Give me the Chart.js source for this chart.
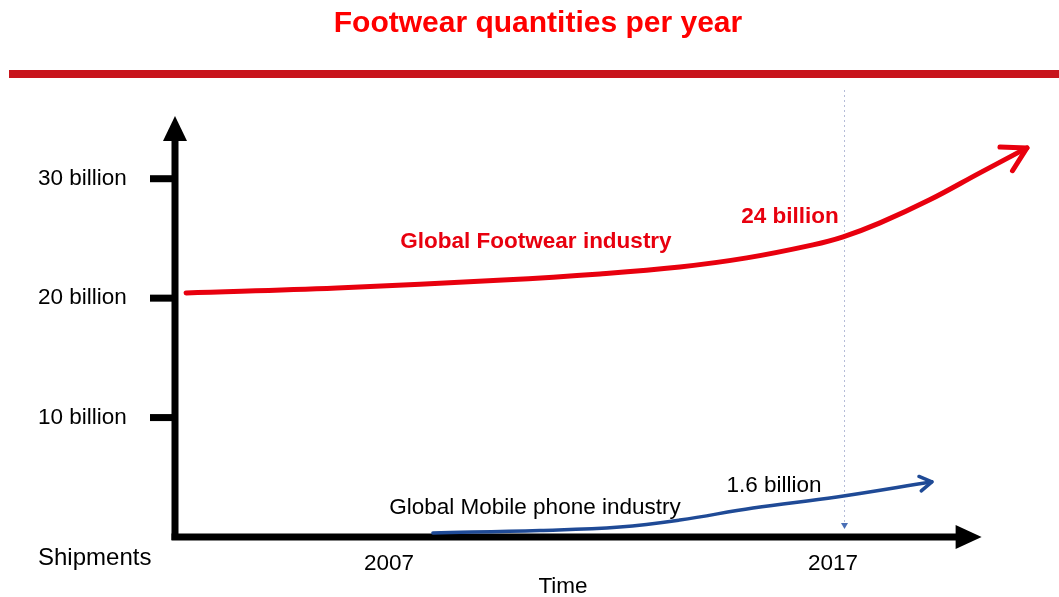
<!DOCTYPE html>
<html>
<head>
<meta charset="utf-8">
<script src="https://cdn.jsdelivr.net/npm/chart.js@4"></script>
<style>
  html, body { margin: 0; padding: 0; background: #fff; }
  #wrap { width: 1059px; height: 597px; }
</style>
</head>
<body>
<div id="wrap"><canvas id="footwearChart" width="1059" height="597"></canvas></div>
<script>
  // Schematic values (years, billions of pairs / units)
  const footwearYears = [2002.43, 2005.83, 2009.57, 2011.75, 2013.55, 2015.06, 2016.55, 2017.23, 2018.06, 2019.18, 2020.31, 2021.37];
  const footwearValues = [20.44, 20.85, 21.52, 22.03, 22.61, 23.37, 24.46, 25.13, 26.3, 28.23, 30.49, 32.58];

  const mobileYears = [2007.99, 2010.4, 2012.2, 2013.55, 2015.2, 2017.09, 2019.23];
  const mobileValues = [0.34, 0.55, 0.84, 1.42, 2.43, 3.35, 4.62];

  const yTicks = [10, 20, 30];
  const yTickLabels = ['10 billion', '20 billion', '30 billion'];
  const xTicks = [2007, 2017];
  const xTickLabels = ['2007', '2017'];
  const markerYear = 2017.25;

  const FONT = '"Liberation Sans", Arial, Helvetica, sans-serif';
  const RED = '#e8000e';
  const BLUE = '#1f4a96';

  function toPoints(xs, ys) {
    return xs.map((x, i) => ({ x: x, y: ys[i] }));
  }

  function chevron(ctx, tip, from, len, half, color, width) {
    const ang = Math.atan2(from.y - tip.y, from.x - tip.x);
    ctx.save();
    ctx.strokeStyle = color;
    ctx.lineWidth = width;
    ctx.lineCap = 'round';
    ctx.lineJoin = 'round';
    ctx.beginPath();
    ctx.moveTo(tip.x + len * Math.cos(ang - half), tip.y + len * Math.sin(ang - half));
    ctx.lineTo(tip.x, tip.y);
    ctx.lineTo(tip.x + len * Math.cos(ang + half), tip.y + len * Math.sin(ang + half));
    ctx.stroke();
    ctx.restore();
  }

  // Axes, ticks, titles and labels drawn on the library's scales
  const sketchPlugin = {
    id: 'sketch',
    beforeDatasetsDraw(chart) {
      const ctx = chart.ctx;
      const xs = chart.scales.x;
      const ys = chart.scales.y;
      const area = chart.chartArea;
      const x0 = area.left;
      const y0 = ys.getPixelForValue(0);

      ctx.save();
      // header
      ctx.fillStyle = '#ff0000';
      ctx.font = 'bold 30px ' + FONT;
      ctx.textAlign = 'center';
      ctx.textBaseline = 'middle';
      ctx.fillText('Footwear quantities per year', 538, 24);
      ctx.fillStyle = '#c8141c';
      ctx.fillRect(9, 70, 1050, 8);

      // 2017 marker line
      const mx = xs.getPixelForValue(markerYear);
      ctx.strokeStyle = 'rgba(150,160,200,0.7)';
      ctx.lineWidth = 1;
      ctx.setLineDash([2, 3]);
      ctx.beginPath();
      ctx.moveTo(mx + 0.5, 90);
      ctx.lineTo(mx + 0.5, y0 - 14);
      ctx.stroke();
      ctx.setLineDash([]);
      ctx.fillStyle = '#4a6fb5';
      ctx.beginPath();
      ctx.moveTo(mx - 3, y0 - 14);
      ctx.lineTo(mx + 4, y0 - 14);
      ctx.lineTo(mx + 0.5, y0 - 8);
      ctx.closePath();
      ctx.fill();

      // axes
      ctx.fillStyle = '#000';
      ctx.fillRect(x0 - 3.5, area.top + 20, 7, y0 - area.top - 17);
      ctx.beginPath();
      ctx.moveTo(x0, area.top - 3);
      ctx.lineTo(x0 - 12, area.top + 22);
      ctx.lineTo(x0 + 12, area.top + 22);
      ctx.closePath();
      ctx.fill();

      const xEnd = xs.getPixelForValue(2020.35);
      ctx.fillRect(x0 - 3.5, y0 - 3.5, xEnd - 24 - x0 + 3.5, 7);
      ctx.beginPath();
      ctx.moveTo(xEnd, y0);
      ctx.lineTo(xEnd - 26, y0 - 12);
      ctx.lineTo(xEnd - 26, y0 + 12);
      ctx.closePath();
      ctx.fill();

      // y ticks
      ctx.font = '22.5px ' + FONT;
      ctx.textAlign = 'left';
      yTicks.forEach((v, i) => {
        const py = ys.getPixelForValue(v);
        ctx.fillRect(x0 - 25, py - 3.5, 25, 7);
        ctx.fillText(yTickLabels[i], 38, py);
      });
      ctx.font = '24px ' + FONT;
      ctx.fillText('Shipments', 38, y0 + 21);

      // x ticks
      ctx.font = '22.5px ' + FONT;
      ctx.textAlign = 'center';
      xTicks.forEach((v, i) => {
        ctx.fillText(xTickLabels[i], xs.getPixelForValue(v), y0 + 27);
      });
      ctx.fillText('Time', 563, y0 + 50);

      // series labels
      ctx.fillStyle = RED;
      ctx.font = 'bold 22.5px ' + FONT;
      ctx.fillText('Global Footwear industry', 536, 242);
      ctx.fillText('24 billion', 790, 217);
      ctx.fillStyle = '#000';
      ctx.font = '22.5px ' + FONT;
      ctx.fillText('Global Mobile phone industry', 535, 508);
      ctx.fillText('1.6 billion', 774, 486);
      ctx.restore();
    },
    afterDatasetsDraw(chart) {
      const ctx = chart.ctx;
      const specs = [
        { len: 27, half: 0.52, width: 5 },
        { len: 14, half: 0.55, width: 3.5 }
      ];
      chart.data.datasets.forEach((ds, i) => {
        const pts = chart.getDatasetMeta(i).data;
        const tip = pts[pts.length - 1];
        const prev = pts[pts.length - 2];
        chevron(ctx, tip, prev, specs[i].len, specs[i].half, ds.borderColor, specs[i].width);
      });
    }
  };

  new Chart(document.getElementById('footwearChart'), {
    type: 'line',
    data: {
      datasets: [
        {
          label: 'Global Footwear industry',
          data: toPoints(footwearYears, footwearValues),
          borderColor: RED,
          borderWidth: 5,
          pointRadius: 0,
          tension: 0.4,
          borderCapStyle: 'round'
        },
        {
          label: 'Global Mobile phone industry',
          data: toPoints(mobileYears, mobileValues),
          borderColor: BLUE,
          borderWidth: 3.5,
          pointRadius: 0,
          tension: 0.4,
          borderCapStyle: 'round'
        }
      ]
    },
    options: {
      responsive: false,
      animation: false,
      layout: { padding: { left: 175, right: 13, top: 119, bottom: 60 } },
      plugins: { legend: { display: false }, tooltip: { enabled: false } },
      scales: {
        x: { type: 'linear', min: 2002.18, max: 2021.8, display: false },
        y: { type: 'linear', min: 0, max: 35, display: false }
      }
    },
    plugins: [sketchPlugin]
  });
</script>
</body>
</html>
